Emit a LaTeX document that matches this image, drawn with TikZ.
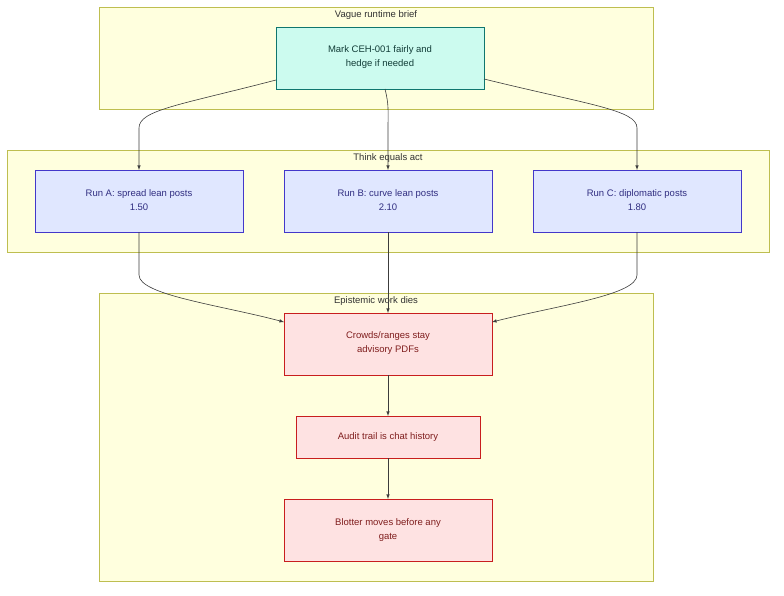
\documentclass[tikz,border=0pt]{standalone}
\usepackage{fontspec}
\setmainfont{Liberation Sans}
\begin{document}
\begin{tikzpicture}[x=1pt,y=-1pt,font=\fontsize{9.5}{14}\selectfont,
 clus/.style={draw={rgb,255:red,190;green,190;blue,80},fill={rgb,255:red,255;green,255;blue,222},line width=0.5pt},
 clab/.style={text={rgb,255:red,50;green,50;blue,50}},
 grn/.style={draw={rgb,255:red,15;green,118;blue,110},fill={rgb,255:red,204;green,251;blue,239},line width=1pt,text={rgb,255:red,17;green,60;blue,55},align=center},
 blu/.style={draw={rgb,255:red,67;green,56;blue,202},fill={rgb,255:red,224;green,231;blue,255},line width=1pt,text={rgb,255:red,49;green,46;blue,129},align=center},
 red/.style={draw={rgb,255:red,200;green,30;blue,30},fill={rgb,255:red,254;green,226;blue,226},line width=1pt,text={rgb,255:red,127;green,29;blue,29},align=center},
 arr/.style={draw={rgb,255:red,60;green,60;blue,60},line width=0.6pt,-latex}]
\useasboundingbox (0,0) rectangle (784,595);
\draw[clus] (99,7) rectangle (653,109);
\node[clab] (c1) at (376,15) {Vague runtime brief};
\draw[clus] (7,150) rectangle (769,252);
\node[clab] (c2) at (388,158) {Think equals act};
\draw[clus] (99,293) rectangle (653,581);
\node[clab] (c3) at (376,301) {Epistemic work dies};
\draw[grn] (276,27) rectangle (484,89); \node[grn,draw=none,fill=none] (t) at (380,57) {Mark CEH-001 fairly and\\hedge if needed};
\coordinate (tL) at (276,80); \coordinate (tB) at (385,89); \coordinate (tR) at (484,79);
\draw[blu] (35,170) rectangle (243,232); \node[blu,draw=none,fill=none] (a) at (139,200) {Run A: spread lean posts\\1.50};
\draw[blu] (284,170) rectangle (492,232); \node[blu,draw=none,fill=none] (b) at (388,200) {Run B: curve lean posts\\2.10};
\draw[blu] (533,170) rectangle (741,232); \node[blu,draw=none,fill=none] (c) at (637,200) {Run C: diplomatic posts\\1.80};
\draw[red] (284,313) rectangle (492,375); \node[red,draw=none,fill=none] (n1) at (388,343) {Crowds/ranges stay\\advisory PDFs};
\draw[red] (296,416) rectangle (480,458); \node[red,draw=none,fill=none] (n2) at (388,437) {Audit trail is chat history};
\draw[red] (284,499) rectangle (492,561); \node[red,draw=none,fill=none] (n3) at (388,530) {Blotter moves before any\\gate};
\draw[arr] (tL) .. controls (180,105) and (139,110) .. (139,128) -- (139,170);
\draw[arr] (tB) .. controls (389,105) and (388,110) .. (388,130) -- (388,170);
\draw[arr] (tR) .. controls (590,105) and (637,110) .. (637,128) -- (637,170);
\draw[arr] (139,232) -- (139,275) .. controls (139,295) and (220,305) .. (284,322);
\draw[arr] (388,232) -- (388,313);
\draw[arr] (637,232) -- (637,275) .. controls (637,295) and (560,305) .. (492,322);
\draw[arr] (388,375) -- (388,416);
\draw[arr] (388,458) -- (388,499);
\end{tikzpicture}
\end{document}
